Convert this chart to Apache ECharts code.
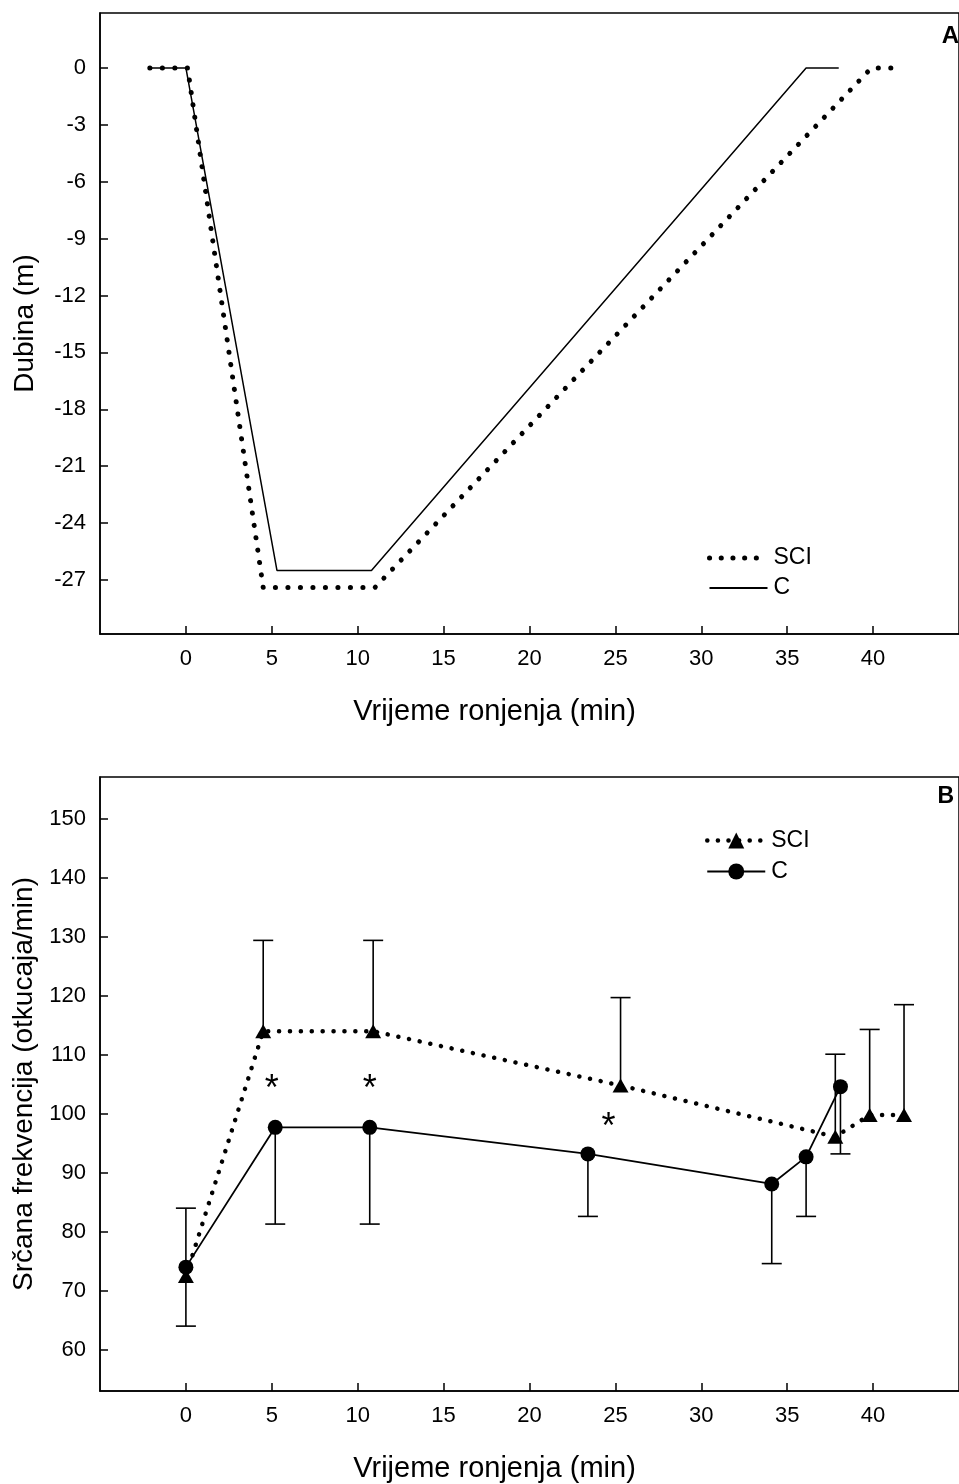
<!DOCTYPE html>
<html lang="hr">
<head>
<meta charset="UTF-8" />
<title>Dubina i srčana frekvencija tijekom ronjenja</title>
<script src="https://cdn.jsdelivr.net/npm/echarts@6/dist/echarts.min.js"></script>
<style>
  html, body { margin: 0; padding: 0; background: #fff; }
  #chart { width: 959px; height: 1484px; }
</style>
</head>
<body>
<div id="chart"></div>
<script>
// --- panel A: profil ronjenja (vrijeme u min, dubina u m)
const profileTimeSCI = [-2.1, 0.1, 4.5, 11.0, 39.9, 41.3];
const profileDepthSCI = [0, 0, -27.4, -27.4, 0, 0];
const profileTimeC = [-2.1, 0, 5.3, 10.8, 36.1, 38.0];
const profileDepthC = [0, 0, -26.5, -26.5, 0, 0];

// --- panel B: srčana frekvencija
const hrTimeSCI = [0, 4.5, 10.9, 25.3, 37.8, 39.8, 41.8];
const hrSCI = [72.5, 114, 114, 104.8, 96.1, 99.8, 99.8];
const hrSCIUpper = [84, 129.4, 129.4, 119.7, 110.1, 114.3, 118.5];
const hrTimeC = [0, 5.2, 10.7, 23.4, 34.1, 36.1, 38.1];
const hrC = [74, 97.7, 97.7, 93.2, 88.1, 92.7, 104.6];
const hrCLower = [64, 81.3, 81.3, 82.6, 74.6, 82.6, 93.2];
const starTime = [5.0, 10.7, 24.6];
const starHr = [105.4, 105.4, 98.9];

// tick labels
const timeTicks = [0, 5, 10, 15, 20, 25, 30, 35, 40];
const depthTicks = [0, -3, -6, -9, -12, -15, -18, -21, -24, -27];
const hrTicks = [60, 70, 80, 90, 100, 110, 120, 130, 140, 150];

const FONT = "'Liberation Sans', Arial, Helvetica, sans-serif";

function zip(a, b, c) {
    return a.map((v, i) => c ? [v, b[i], c[i]] : [v, b[i]]);
}

function errorBar(params, api) {
    const p = api.coord([api.value(0), api.value(1)]);
    const e = api.coord([api.value(0), api.value(2)]);
    const half = 10;
    const st = { stroke: '#000', lineWidth: 1.6 };
    return {
        type: 'group',
        children: [
            { type: 'line', shape: { x1: p[0], y1: p[1], x2: e[0], y2: e[1] }, style: st },
            { type: 'line', shape: { x1: e[0] - half, y1: e[1], x2: e[0] + half, y2: e[1] }, style: st }
        ]
    };
}

function star(params, api) {
    const p = api.coord([api.value(0), api.value(1)]);
    const size = 36;
    return {
        type: 'text',
        style: {
            text: '*', x: p[0], y: p[1] + size * 0.23,
            textAlign: 'center', textVerticalAlign: 'middle',
            fontSize: size, fontFamily: FONT, fill: '#000'
        }
    };
}

function xAxisFor(gridIndex) {
    return {
        gridIndex: gridIndex, type: 'value', min: -5, max: 45, position: 'bottom',
        axisLine: { onZero: false, lineStyle: { color: '#000', width: 1.5 } },
        axisTick: { inside: true, length: 8, customValues: timeTicks, lineStyle: { color: '#000', width: 1.5 } },
        axisLabel: { customValues: timeTicks, margin: 14, fontSize: 22, color: '#000', fontFamily: FONT },
        splitLine: { show: false },
        name: 'Vrijeme ronjenja (min)', nameLocation: 'middle', nameGap: 63,
        nameTextStyle: { fontSize: 29, color: '#000', fontFamily: FONT, padding: [0, 70, 0, 0] }
    };
}

function yAxisFor(gridIndex, min, max, ticks, name) {
    return {
        gridIndex: gridIndex, type: 'value', min: min, max: max, position: 'left',
        axisLine: { show: true, onZero: false, lineStyle: { color: '#000', width: 1.5 } },
        axisTick: { show: true, inside: true, length: 8, customValues: ticks, lineStyle: { color: '#000', width: 1.5 } },
        axisLabel: { customValues: ticks, margin: 14, fontSize: 22, color: '#000', fontFamily: FONT },
        splitLine: { show: false },
        name: name, nameLocation: 'middle', nameRotate: 90, nameGap: 61,
        nameTextStyle: { fontSize: 28, color: '#000', fontFamily: FONT }
    };
}

const legendText = { fontSize: 23, color: '#000', fontFamily: FONT, padding: [0, 0, 0, 1] };
const panelLetter = { fontSize: 23, fontWeight: 'bold', color: '#000', fontFamily: FONT };

const option = {
    backgroundColor: '#fff',
    animation: false,
    title: [
        { text: 'A', right: 0, top: 24, padding: 0, textStyle: Object.assign({}, panelLetter, { fontSize: 24 }) },
        { text: 'B', right: 5, top: 785, padding: 0, textStyle: panelLetter }
    ],
    grid: [
        { left: 100, top: 13, width: 864, height: 621, show: true, borderColor: '#000', borderWidth: 1.5 },
        { left: 100, top: 777, width: 864, height: 621, show: true, borderColor: '#000', borderWidth: 1.5 }
    ],
    legend: [
        {
            data: [
                { name: 'A:SCI', itemStyle: { opacity: 0 }, lineStyle: { width: 5, type: [0.1, 11.6], cap: 'round' } },
                { name: 'A:C', itemStyle: { opacity: 0 } }
            ],
            orient: 'vertical', left: 702, top: 538,
            itemWidth: 58, itemHeight: 14, itemGap: 0,
            formatter: n => n.slice(2),
            textStyle: Object.assign({ lineHeight: 30 }, legendText)
        },
        {
            data: [
                { name: 'B:SCI', lineStyle: { width: 4.5, type: [0.1, 10.5], cap: 'round' } },
                { name: 'B:C' }
            ],
            orient: 'vertical', left: 700, top: 820,
            itemWidth: 58, itemHeight: 20, itemGap: 0,
            formatter: n => n.slice(2),
            textStyle: Object.assign({ lineHeight: 31 }, legendText)
        }
    ],
    xAxis: [xAxisFor(0), xAxisFor(1)],
    yAxis: [
        yAxisFor(0, -29.85, 2.9, depthTicks, 'Dubina (m)'),
        yAxisFor(1, 53, 157.1, hrTicks, 'Srčana frekvencija (otkucaja/min)')
    ],
    series: [
        {
            name: 'A:C', type: 'line', xAxisIndex: 0, yAxisIndex: 0,
            data: zip(profileTimeC, profileDepthC), symbol: 'none',
            lineStyle: { color: '#000', width: 1.5 }, itemStyle: { color: '#000' }
        },
        {
            name: 'A:SCI', type: 'line', xAxisIndex: 0, yAxisIndex: 0,
            data: zip(profileTimeSCI, profileDepthSCI), symbol: 'none',
            lineStyle: { color: '#000', width: 5, type: [0.1, 12.4], cap: 'round' }, itemStyle: { color: '#000' }
        },
        {
            name: 'B:SCI err', type: 'custom', xAxisIndex: 1, yAxisIndex: 1,
            data: zip(hrTimeSCI, hrSCI, hrSCIUpper), renderItem: errorBar,
            encode: { x: 0, y: [1, 2] }, silent: true
        },
        {
            name: 'B:C err', type: 'custom', xAxisIndex: 1, yAxisIndex: 1,
            data: zip(hrTimeC, hrC, hrCLower), renderItem: errorBar,
            encode: { x: 0, y: [1, 2] }, silent: true
        },
        {
            name: 'B:SCI', type: 'line', xAxisIndex: 1, yAxisIndex: 1,
            data: zip(hrTimeSCI, hrSCI), symbol: 'triangle', symbolSize: [16, 14],
            lineStyle: { color: '#000', width: 4.5, type: [0.1, 10.8], cap: 'round' },
            itemStyle: { color: '#000' }
        },
        {
            name: 'B:C', type: 'line', xAxisIndex: 1, yAxisIndex: 1,
            data: zip(hrTimeC, hrC), symbol: 'circle', symbolSize: 15,
            lineStyle: { color: '#000', width: 1.8 }, itemStyle: { color: '#000' }
        },
        {
            name: 'B:stars', type: 'custom', xAxisIndex: 1, yAxisIndex: 1,
            data: zip(starTime, starHr), renderItem: star,
            encode: { x: 0, y: 1 }, silent: true
        }
    ]
};

const chart = echarts.init(document.getElementById('chart'));
chart.setOption(option);
</script>
</body>
</html>
